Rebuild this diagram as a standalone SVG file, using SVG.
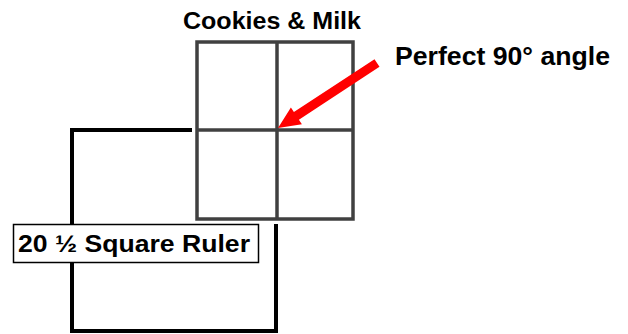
<svg xmlns="http://www.w3.org/2000/svg" width="628" height="334" viewBox="0 0 628 334">
<style>
.t{font-family:"Liberation Sans",Arial,sans-serif;font-weight:bold;fill:#000}
.grid{fill:none;stroke:#404040;stroke-width:3.5}
</style>
<rect width="628" height="334" fill="#fff"/>
<g id="ruler">
<rect x="72" y="130" width="204" height="201" fill="none" stroke="#000" stroke-width="4"/>
</g>
<g id="cookies-milk">
<rect x="192" y="37" width="166" height="187" fill="#fff"/>
<rect class="grid" x="197" y="42" width="156" height="177"/>
<line class="grid" x1="277" y1="42" x2="277" y2="219"/>
<line class="grid" x1="197" y1="130" x2="353" y2="130"/>
<text class="t" x="183" y="29" font-size="23" textLength="178" lengthAdjust="spacingAndGlyphs">Cookies &amp; Milk</text>
</g>
<g id="ruler-label">
<rect x="13.5" y="224.5" width="245" height="38" fill="#fff" stroke="#000" stroke-width="1.5"/>
<text class="t" x="18" y="252" font-size="23" textLength="232" lengthAdjust="spacingAndGlyphs">20 ½ Square Ruler</text>
</g>
<g id="angle-label">
<text class="t" x="395" y="65" font-size="26" textLength="215" lengthAdjust="spacingAndGlyphs">Perfect 90° angle</text>
</g>
<g id="connectors">
<polygon fill="#f00" points="374.5,59.2 293.9,112.1 290.9,107.5 278,128 301.9,124.3 298.9,119.7 379.5,66.8"/>
</g>
</svg>
